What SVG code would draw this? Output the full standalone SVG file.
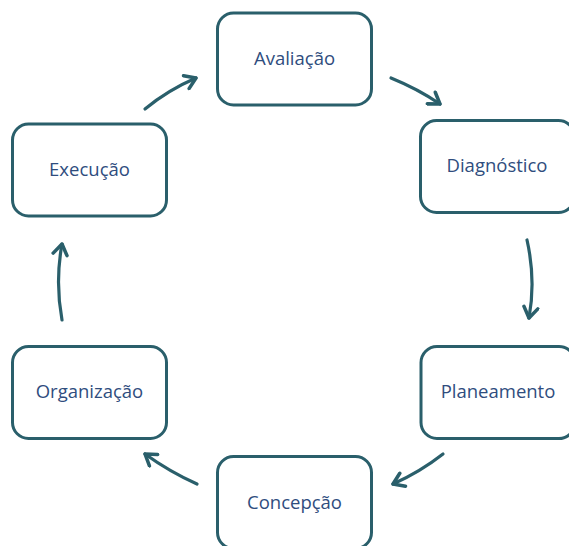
<svg xmlns="http://www.w3.org/2000/svg" width="569" height="546" viewBox="0 0 569 546">
<style>
.box{fill:#fff;stroke:#2a5f6b;stroke-width:3}
.lbl{font-family:"Open Sans","Liberation Sans",sans-serif;font-size:18.5px;fill:#2f4d7e;text-anchor:middle}
.con{fill:none;stroke:#2a5f6b;stroke-width:3.2;stroke-linecap:round;marker-end:url(#ah)}
</style>
<defs>
<marker id="ah" viewBox="0 0 10 10" refX="8" refY="5" markerWidth="5.5" markerHeight="5.5" orient="auto" markerUnits="strokeWidth">
<polyline points="2,1 8,5 2,9" fill="none" stroke="#2a5f6b" stroke-width="2" stroke-linecap="round" stroke-linejoin="round"/>
</marker>
</defs>
<rect width="569" height="546" fill="#fff"/>
<g id="connectors">
<path class="con" d="M391,78 Q418,89 440,104"/>
<path class="con" d="M527,240 Q536,280 529,318"/>
<path class="con" d="M443,454 Q420,472 393,484"/>
<path class="con" d="M197,484 Q170,472 145,454"/>
<path class="con" d="M62,320 Q55,282 62,244"/>
<path class="con" d="M145,109 Q168,90 196,78"/>
</g>
<g id="avaliacao"><rect class="box" x="217.5" y="13" width="154" height="92" rx="16"/><text class="lbl" x="294.5" y="65">Avaliação</text></g>
<g id="diagnostico"><rect class="box" x="420.5" y="120.5" width="154" height="92" rx="16"/><text class="lbl" x="497" y="172">Diagnóstico</text></g>
<g id="planeamento"><rect class="box" x="421" y="346.5" width="154" height="92" rx="16"/><text class="lbl" x="498" y="398">Planeamento</text></g>
<g id="concepcao"><rect class="box" x="217.5" y="456.5" width="154" height="92" rx="16"/><text class="lbl" x="294.5" y="509">Concepção</text></g>
<g id="organizacao"><rect class="box" x="12.5" y="346.5" width="154" height="92" rx="16"/><text class="lbl" x="89.5" y="398">Organização</text></g>
<g id="execucao"><rect class="box" x="12.5" y="124" width="154" height="92" rx="16"/><text class="lbl" x="89.5" y="176">Execução</text></g>
</svg>
